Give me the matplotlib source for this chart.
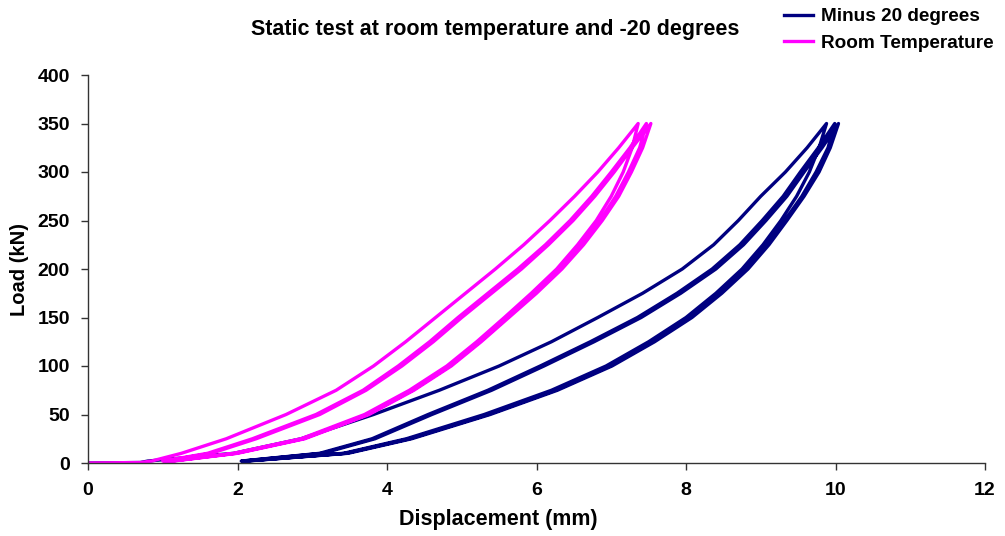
import matplotlib
matplotlib.use("Agg")
import matplotlib.pyplot as plt

# ---------------- data ----------------
# load levels (kN) shared by the branches (ascending)
loads = [2, 10, 25, 50, 75, 100, 125, 150, 175, 200, 225, 250, 275, 300, 325, 350]

# Room temperature: displacement (mm) at each load level
rt_start_x = [0.0, 0.7]
rt_start_y = [0.0, 0.5]
rt_load1 = [0.85, 1.25, 1.85, 2.65, 3.32, 3.82, 4.25, 4.65, 5.05, 5.45, 5.83, 6.18, 6.51, 6.82, 7.10, 7.36]
rt_unload1 = [1.10, 1.95, 2.85, 3.70, 4.30, 4.80, 5.20, 5.57, 5.93, 6.27, 6.55, 6.80, 7.00, 7.16, 7.28, 7.36]
rt_load2 = [1.00, 1.60, 2.20, 3.05, 3.68, 4.15, 4.57, 4.95, 5.35, 5.75, 6.12, 6.45, 6.74, 7.00, 7.25, 7.47]
rt_unload2 = [1.12, 1.98, 2.88, 3.74, 4.34, 4.84, 5.24, 5.61, 5.97, 6.31, 6.60, 6.85, 7.06, 7.23, 7.38, 7.47]
rt_load3 = [1.02, 1.65, 2.25, 3.10, 3.72, 4.20, 4.62, 5.00, 5.40, 5.80, 6.16, 6.49, 6.78, 7.04, 7.28, 7.53]
rt_unload3 = [1.14, 2.00, 2.90, 3.76, 4.36, 4.86, 5.26, 5.63, 6.00, 6.34, 6.63, 6.88, 7.10, 7.27, 7.42, 7.53]

# Minus 20 degrees
m20_start_x = [0.0, 0.7]
m20_start_y = [0.0, 0.5]
m20_load1 = [0.80, 1.95, 2.85, 3.82, 4.70, 5.50, 6.20, 6.82, 7.42, 7.95, 8.37, 8.70, 9.00, 9.33, 9.62, 9.88]
m20_unload1 = [2.08, 3.42, 4.26, 5.30, 6.20, 6.93, 7.50, 8.00, 8.40, 8.75, 9.03, 9.27, 9.48, 9.65, 9.78, 9.88]
m20_load2 = [2.05, 3.10, 3.80, 4.55, 5.35, 6.05, 6.72, 7.35, 7.88, 8.35, 8.72, 9.02, 9.30, 9.53, 9.77, 9.99]
m20_unload2 = [2.10, 3.45, 4.30, 5.35, 6.25, 6.98, 7.55, 8.05, 8.45, 8.80, 9.08, 9.32, 9.55, 9.74, 9.90, 9.99]
m20_load3 = [2.07, 3.14, 3.84, 4.60, 5.40, 6.10, 6.77, 7.40, 7.93, 8.40, 8.77, 9.07, 9.35, 9.58, 9.82, 10.04]
m20_unload3 = [2.12, 3.48, 4.33, 5.38, 6.28, 7.01, 7.58, 8.08, 8.48, 8.83, 9.11, 9.35, 9.58, 9.78, 9.93, 10.04]

series_names = ["Minus 20 degrees", "Room Temperature"]
colors = ["#000080", "#FF00FF"]

x_ticks = [0, 2, 4, 6, 8, 10, 12]
y_ticks = [0, 50, 100, 150, 200, 250, 300, 350, 400]


def cycle_path(sx, sy, branches):
    xs = list(sx)
    ys = list(sy)
    for i, br in enumerate(branches):
        if i % 2 == 0:  # loading: ascending load
            xs += br
            ys += loads
        else:  # unloading: descending load
            xs += br[::-1]
            ys += loads[::-1]
    return xs, ys


m20_x, m20_y = cycle_path(m20_start_x, m20_start_y,
                          [m20_load1, m20_unload1, m20_load2, m20_unload2, m20_load3, m20_unload3])
rt_x, rt_y = cycle_path(rt_start_x, rt_start_y,
                        [rt_load1, rt_unload1, rt_load2, rt_unload2, rt_load3, rt_unload3])

# ---------------- figure ----------------
plt.rcParams['font.family'] = ['Liberation Sans', 'DejaVu Sans']
plt.rcParams['font.weight'] = 'bold'

fig = plt.figure(figsize=(10.05, 5.36), dpi=100)
ax = fig.add_axes([88 / 1005, 73 / 536, (985 - 88) / 1005, (463 - 75) / 536])

ax.plot(m20_x, m20_y, color=colors[0], lw=2.4, label=series_names[0], solid_joinstyle='round')
ax.plot(rt_x, rt_y, color=colors[1], lw=2.4, label=series_names[1], solid_joinstyle='round')

ax.set_xlim(0, 12)
ax.set_ylim(0, 400)
ax.set_xticks(x_ticks)
ax.set_yticks(y_ticks)
ax.tick_params(direction='out', length=5, width=1, colors='#333333', labelcolor='black',
               labelsize=14)
ax.tick_params(axis='x', pad=9)
ax.tick_params(axis='y', pad=8)
for lab in ax.get_xticklabels() + ax.get_yticklabels():
    lab.set_fontweight('bold')
for s in ['top', 'right']:
    ax.spines[s].set_visible(False)
for s in ['left', 'bottom']:
    ax.spines[s].set_color('#333333')
    ax.spines[s].set_linewidth(1)

ax.set_xlabel("Displacement (mm)", fontsize=15.5, fontweight='bold')
ax.xaxis.set_label_coords((498 - 88) / 897, -(520 - 463) / 388, transform=ax.transAxes)
ax.xaxis.label.set_va('center')
ax.set_ylabel("Load (kN)", fontsize=14.5, fontweight='bold', labelpad=6)

fig.text(495 / 1005, 1 - 30 / 536, "Static test at room temperature and -20 degrees",
         ha='center', va='center', fontsize=15.5, fontweight='bold')

fig.legend(loc='upper left', bbox_to_anchor=(784 / 1005, 1 - 8 / 536), frameon=False,
           prop={'size': 13.7, 'weight': 'bold'}, handlelength=1.5, handletextpad=0.45,
           labelspacing=0.5, borderaxespad=0, borderpad=0)

fig.savefig("out.png", dpi=100)
